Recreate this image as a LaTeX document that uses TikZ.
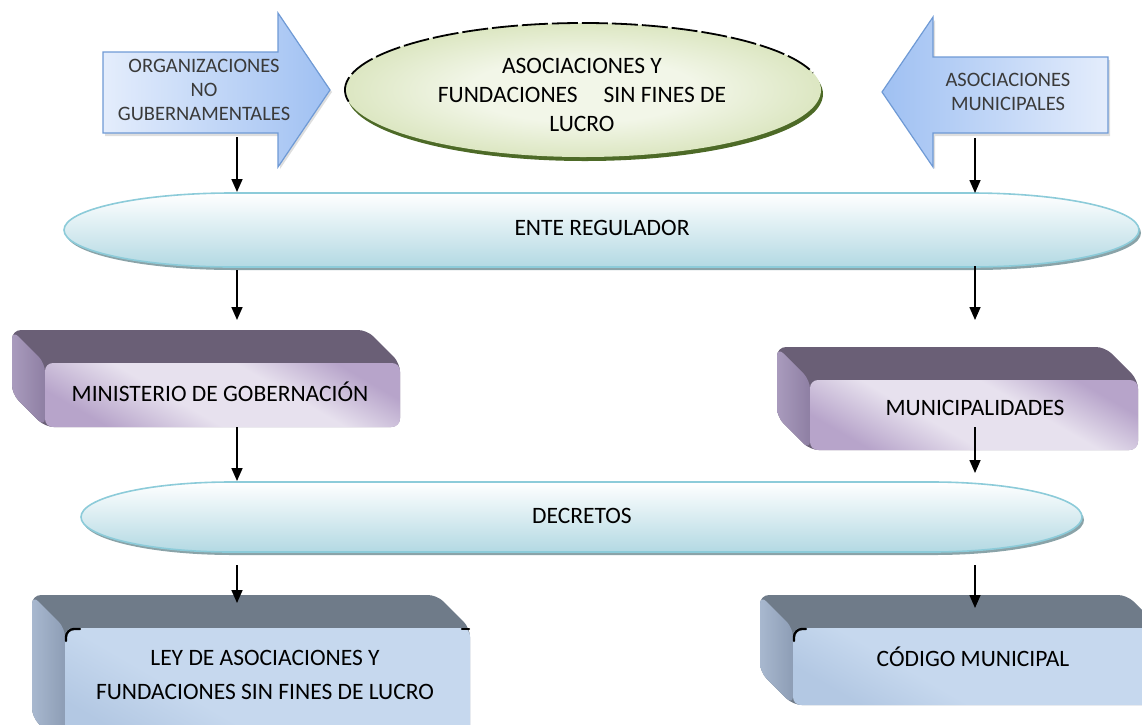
\documentclass[tikz,border=0pt]{standalone}
\usepackage{fontspec}
\setmainfont{Carlito}
\usetikzlibrary{arrows.meta,calc}

% palette
\definecolor{arrowL}{HTML}{E4EDFC}
\definecolor{arrowR}{HTML}{9FC0F2}
\definecolor{arrowLine}{HTML}{6F9AD5}
\definecolor{greenIn}{HTML}{F2F6E8}
\definecolor{greenOut}{HTML}{CCDBA6}
\definecolor{greenRim}{HTML}{4D6A27}
\definecolor{capTop}{HTML}{FFFFFF}
\definecolor{capBot}{HTML}{B3D9E3}
\definecolor{capLine}{HTML}{8CCBD9}
\definecolor{capShadow}{HTML}{8AA3A8}
\definecolor{purTop}{HTML}{6A5F76}
\definecolor{purSideL}{HTML}{A99BBD}
\definecolor{purSideR}{HTML}{8E7FA3}
\definecolor{purLight}{HTML}{E7E1EE}
\definecolor{purDark}{HTML}{B7A4CA}
\definecolor{bluTop}{HTML}{6F7B89}
\definecolor{bluSideL}{HTML}{A8B8CF}
\definecolor{bluSideR}{HTML}{8D9DB5}
\definecolor{bluLight}{HTML}{C6D8EE}
\definecolor{bluDark}{HTML}{B3C8E3}
\definecolor{labelGray}{HTML}{3A3A3A}

% diagonal shadings for the front faces of the slabs
\pgfdeclarehorizontalshading{lavfront}{100bp}{color(0bp)=(purDark); color(25bp)=(purDark); color(42bp)=(purLight); color(60bp)=(purLight); color(75bp)=(purDark); color(100bp)=(purDark)}
\pgfdeclarehorizontalshading{blufront}{100bp}{color(0bp)=(bluDark); color(25bp)=(bluDark); color(40bp)=(bluLight); color(100bp)=(bluLight)}
% soft radial fill for the green ellipse
\pgfdeclareradialshading{greenglow}{\pgfpoint{0bp}{0bp}}{color(0bp)=(greenIn); color(12bp)=(greenIn); color(30bp)=(greenOut!80!greenIn); color(50bp)=(greenOut); color(100bp)=(greenOut)}

% 3D slab: front face (#1,#2)-(#3,#4); #5 top colour, #6/#7 side colours, #8 front shading
\newcommand\slabbox[8]{%
  \fill[#5, rounded corners=9] ({#1-33},{#2-33}) -- ({#3-33},{#2-33}) -- (#3,#2)
    -- (#3,#4) -- (#1,#4) -- ({#1-33},{#4-33}) -- cycle;
  \shade[left color=#6, right color=#7, rounded corners=9]
    ({#1-33},{#2-33}) -- (#1,#2) -- (#1,#4) -- ({#1-33},{#4-33}) -- cycle;
  \shade[shading=#8, shading angle=60, rounded corners=8] (#1,#2) rectangle (#3,#4);
}

% elongated capsule with elliptic ends: left x, right x, centre y, end radius, half height
\newcommand\capsule[5]{%
  \fill[capShadow] ({#1+#4+2},{#3-#5+3}) -- ({#2-#4+2},{#3-#5+3})
    arc[start angle=-90, end angle=90, x radius=#4, y radius=#5]
    -- ({#1+#4+2},{#3+#5+3})
    arc[start angle=90, end angle=270, x radius=#4, y radius=#5] -- cycle;
  \shade[top color=capTop, bottom color=capBot, draw=capLine, line width=1.6pt]
    ({#1+#4},{#3-#5}) -- ({#2-#4},{#3-#5})
    arc[start angle=-90, end angle=90, x radius=#4, y radius=#5]
    -- ({#1+#4},{#3+#5})
    arc[start angle=90, end angle=270, x radius=#4, y radius=#5] -- cycle;
}

\tikzset{
  main/.style={font=\fontsize{23.5}{29}\selectfont, align=center, inner sep=0pt},
  small/.style={font=\fontsize{20.5}{24}\selectfont, align=center, inner sep=0pt, text=labelGray},
  arr/.style={line width=1.6pt, -{Triangle[length=13pt,width=11pt]}},
  blockarrow/.style={draw=arrowLine, line width=1.2pt},
  cornermark/.style={line width=2.4pt, line cap=round},
}

\begin{document}
\begin{tikzpicture}[x=1pt,y=-1pt]
\useasboundingbox (0,0) rectangle (1142,724);
\clip (0,0) rectangle (1142,724);

% ---- block arrows at the top ----
\fill[black!13] (105,55) -- (280,55) -- (280,16) -- (332,92) -- (280,169) -- (280,136) -- (105,136) -- cycle;
\shade[left color=arrowL, right color=arrowR, blockarrow]
  (103,52) -- (278,52) -- (278,13) -- (330,90) -- (278,167) -- (278,133) -- (103,133) -- cycle;
\node[small] (ngo) at (204,90) {ORGANIZACIONES\\NO\\GUBERNAMENTALES};

\fill[black!13] (1110,60) -- (935,60) -- (935,20) -- (884,95) -- (935,169) -- (935,136) -- (1110,136) -- cycle;
\shade[left color=arrowR, right color=arrowL, blockarrow]
  (1108,57) -- (933,57) -- (933,17) -- (882,92) -- (933,167) -- (933,133) -- (1108,133) -- cycle;
\node[small] (amun) at (1008,92) {ASOCIACIONES\\MUNICIPALES};

% ---- green ellipse ----
\fill[greenRim] (585,94) ellipse [x radius=238, y radius=67];
\shade[shading=greenglow] (583,90) ellipse [x radius=238, y radius=67];
\draw[line width=1.8pt, dash pattern=on 26pt off 4pt]
  ([shift={(170:238 and 67)}]583,90) arc[start angle=170, end angle=345, x radius=238, y radius=67];
\node[main] (afsl) at (582,95) {ASOCIACIONES Y\\FUNDACIONES\hspace{26pt}SIN FINES DE\\LUCRO};

% ---- capsules ----
\capsule{64}{1139}{230}{168}{37}
\node[main] (ente) at (602,228) {ENTE REGULADOR};

\capsule{81}{1082}{517}{150}{35}
\node[main] (decr) at (582,516) {DECRETOS};

% ---- slabs ----
\slabbox{45}{363}{400}{427}{purTop}{purSideL}{purSideR}{lavfront}
\node[main] (mingob) at (220,392) {MINISTERIO DE GOBERNACIÓN};

\slabbox{810}{380}{1138}{450}{purTop}{purSideL}{purSideR}{lavfront}
\node[main] (munis) at (975,408) {MUNICIPALIDADES};

\slabbox{65}{628}{470}{750}{bluTop}{bluSideL}{bluSideR}{blufront}
\draw[cornermark] (66,641) -- (66,637) arc[start angle=180, end angle=270, radius=8] -- (80,629);
\draw[cornermark] (462,629) -- (469,629);
\node[main, font=\fontsize{23.5}{34}\selectfont] (ley) at (265,675) {LEY DE ASOCIACIONES Y\\FUNDACIONES SIN FINES DE LUCRO};

\slabbox{793}{628}{1160}{705}{bluTop}{bluSideL}{bluSideR}{blufront}
\draw[cornermark] (794,641) -- (794,637) arc[start angle=180, end angle=270, radius=8] -- (806,629);
\node[main] (codigo) at (973,657) {CÓDIGO MUNICIPAL};

% ---- connector end points ----
\coordinate (ngoOut)   at (237,137);
\coordinate (enteInL)  at (237,192);
\coordinate (amunOut)  at (975,138);
\coordinate (enteInR)  at (975,193);
\coordinate (enteOutL) at (237,270);
\coordinate (minIn)    at (237,320);
\coordinate (enteOutR) at (975,266);
\coordinate (munIn)    at (975,320);
\coordinate (minOut)   at (237,427);
\coordinate (decrInL)  at (237,481);
\coordinate (munOut)   at (975,427);
\coordinate (decrInR)  at (975,473);
\coordinate (decrOutL) at (237,565);
\coordinate (leyIn)    at (237,603);
\coordinate (decrOutR) at (975,565);
\coordinate (codIn)    at (975,608);

% ---- connectors ----
\draw[arr] (ngoOut) -- (enteInL);
\draw[arr] (amunOut) -- (enteInR);
\draw[arr] (enteOutL) -- (minIn);
\draw[arr] (enteOutR) -- (munIn);
\draw[arr] (minOut) -- (decrInL);
\draw[arr] (munOut) -- (decrInR);
\draw[arr] (decrOutL) -- (leyIn);
\draw[arr] (decrOutR) -- (codIn);
\end{tikzpicture}
\end{document}
